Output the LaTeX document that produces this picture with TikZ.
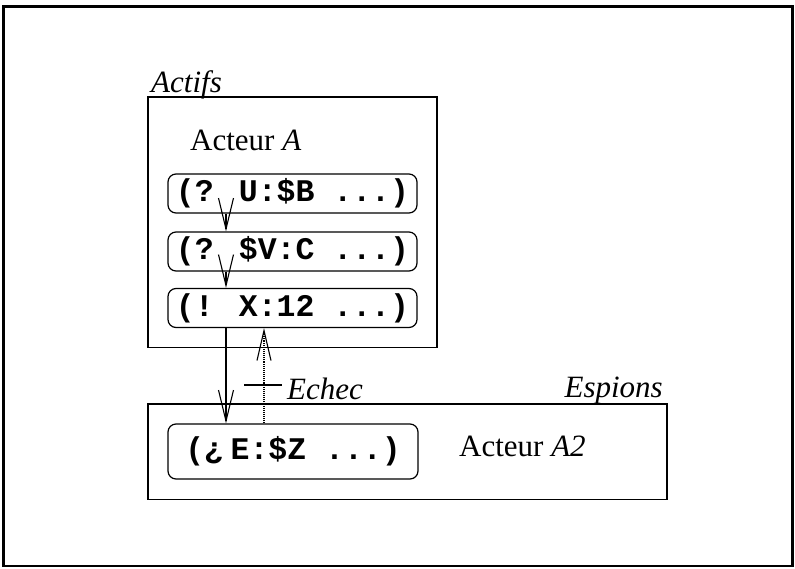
\documentclass[tikz,border=0pt]{standalone}
\usepackage{fontspec}
\setmainfont{Liberation Serif}
\newfontfamily\codefont{Liberation Mono}[BoldFont={* Bold}]
\usetikzlibrary{arrows.meta,calc}
\begin{document}
\begin{tikzpicture}[x=1pt,y=-1pt,
  frame/.style={draw,line width=2.4pt},
  group/.style={draw,line width=1.2pt},
  code/.style={draw,line width=1.2pt,rounded corners=8pt,inner sep=0pt,
    font=\fontsize{31.5}{31.5}\codefont\bfseries},
  lbl/.style={inner sep=0pt,font=\fontsize{31}{31}\selectfont},
  arr/.style={line width=1.1pt,-{Straight Barb[length=31pt,width=15pt,line width=1.1pt]}},
  darr/.style={line width=1.1pt,densely dotted,-{Straight Barb[length=30pt,width=14pt,line width=1.1pt]}}]
\useasboundingbox (0,0) rectangle (795,568);
\draw[frame] (3.5,6.5) rectangle (792.5,566);
% groups
\draw[group] (148,97) rectangle (437,347.5);
\draw[group] (148,404) rectangle (667,499.5);
\node[lbl,anchor=base west] (actifs) at (151,92) {\itshape Actifs};
\node[lbl,anchor=base east] (espions) at (663,397) {\itshape Espions};
\node[lbl,anchor=base west] (acteurA) at (190,150) {Acteur \textit{A}};
\node[lbl,anchor=base west] (acteurA2) at (459,456) {Acteur \textit{A2}};
% code boxes
\node[code,minimum width=249pt,minimum height=39pt] (c1) at (292.5,193.5) {(? U:\$B ...)};
\node[code,minimum width=249pt,minimum height=39pt] (c2) at (292.5,251.5) {(? \$V:C ...)};
\node[code,minimum width=249pt,minimum height=39pt] (c3) at (292.5,308) {(! X:12 ...)};
\node[code,minimum width=250pt,minimum height=55pt] (l1) at (293,451.5) {(¿\kern-.36em\ E:\$Z ...)};
% arrows
\coordinate (xa) at (226,0);
\coordinate (xb) at (226,0);
\coordinate (xc) at (264,0);
\draw[arr] (c1.south -| xa) -- (c2.north -| xa);
\draw[arr] (c2.south -| xa) -- (c3.north -| xa);
\draw[arr] (c3.south -| xb) -- (l1.north -| xb);
\draw[darr] (l1.north -| xc) -- (c3.south -| xc);
% Echec label
\node[lbl,anchor=base west] (echec) at (287,399) {\itshape Echec};
\coordinate (t1) at (244,385);
\coordinate (t2) at (282,385);
\draw[line width=1.1pt] (t1) -- (t2);
\end{tikzpicture}
\end{document}
